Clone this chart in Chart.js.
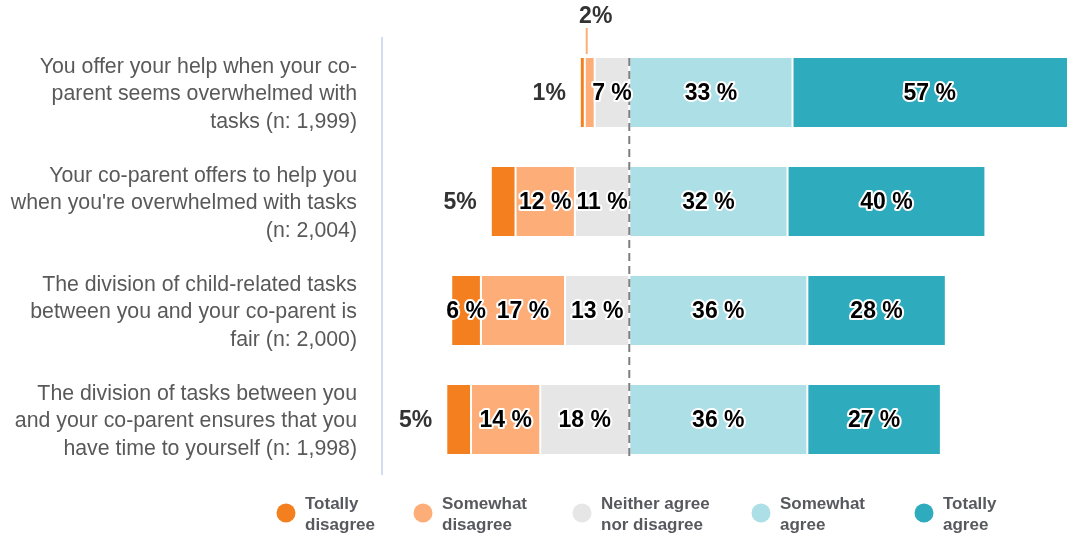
<!DOCTYPE html>
<html>
<head>
<meta charset="utf-8">
<script src="https://cdn.jsdelivr.net/npm/chart.js@4/dist/chart.umd.min.js"></script>
<style>
  html, body { margin: 0; padding: 0; background: #fff; }
  #wrap { width: 1067px; height: 536px; position: relative; }
</style>
</head>
<body>
<div id="wrap"><canvas id="mycanvas" width="1067" height="536"></canvas></div>
<script>
// statements (y axis), one array of lines each
var statements = [
  ["You offer your help when your co-", "parent seems overwhelmed with", "tasks (n: 1,999)"],
  ["Your co-parent offers to help you", "when you're overwhelmed with tasks", "(n: 2,004)"],
  ["The division of child-related tasks", "between you and your co-parent is", "fair (n: 2,000)"],
  ["The division of tasks between you", "and your co-parent ensures that you", "have time to yourself (n: 1,998)"]
];

// answers in %
var totallyDisagree = [1, 5, 6, 5];
var somewhatDisagree = [2, 12, 17, 14];
var neither = [7, 11, 13, 18];
var somewhatAgree = [33, 32, 36, 36];
var totallyAgree = [57, 40, 28, 27];

var legendNames = [
  ["Totally", "disagree"],
  ["Somewhat", "disagree"],
  ["Neither agree", "nor disagree"],
  ["Somewhat", "agree"],
  ["Totally", "agree"]
];

var colTD = "#f47f1e", colSD = "#fdae78", colN = "#e6e6e6", colSA = "#addfe7", colTA = "#2eacbd";
var font = "'Liberation Sans', Arial, sans-serif";

function neg(arr) { return arr.map(function(v){ return -v; }); }

function bar(label, data, color) {
  return {
    label: label,
    data: data,
    backgroundColor: color,
    borderColor: "#ffffff",
    borderWidth: {left: 1, right: 1, top: 0, bottom: 0},
    borderSkipped: false,
    barPercentage: 0.633,
    categoryPercentage: 1
  };
}

// negatives stack from zero outwards in dataset order
var chartdata = {
  labels: statements,
  datasets: [
    bar("Neither agree nor disagree", neg(neither), colN),
    bar("Somewhat disagree", neg(somewhatDisagree), colSD),
    bar("Totally disagree", neg(totallyDisagree), colTD),
    bar("Somewhat agree", somewhatAgree, colSA),
    bar("Totally agree", totallyAgree, colTA)
  ]
};

var labelPlugin = {
  id: "labelPlugin",
  afterDatasetsDraw: function(chart) {
    var ctx = chart.ctx, area = chart.chartArea;
    var x0 = chart.scales.x.getPixelForValue(0);
    var firstBar = chart.getDatasetMeta(0).data[0];
    var lastBar = chart.getDatasetMeta(0).data[statements.length - 1];

    // dashed zero line
    ctx.save();
    ctx.strokeStyle = "#7f7f7f";
    ctx.lineWidth = 2;
    ctx.setLineDash([8, 5]);
    ctx.beginPath();
    ctx.moveTo(x0, firstBar.y - firstBar.height / 2);
    ctx.lineTo(x0, lastBar.y + lastBar.height / 2 + 3);
    ctx.stroke();
    ctx.restore();

    ctx.save();
    ctx.font = "bold 23px " + font;
    ctx.textBaseline = "middle";
    chart.data.datasets.forEach(function(ds, di) {
      var meta = chart.getDatasetMeta(di);
      meta.data.forEach(function(el, i) {
        var v = Math.abs(ds.data[i]);
        var left = Math.max(Math.min(el.x, el.base), area.left);
        var right = Math.min(Math.max(el.x, el.base), area.right);
        var cx = (left + right) / 2, cy = el.y;
        if (di === 2 && v <= 5) {
          // small outer value: to the left of the bar
          ctx.fillStyle = "#333333";
          ctx.textAlign = "right";
          ctx.fillText(v + "%", left - 14, cy + 1);
        } else if (di === 1 && v < 3) {
          // tiny segment: label above with a leader line
          var top = el.y - el.height / 2;
          ctx.strokeStyle = colSD;
          ctx.lineWidth = 2;
          ctx.beginPath();
          ctx.moveTo(cx - 3, top - 4);
          ctx.lineTo(cx - 3, top - 30);
          ctx.stroke();
          ctx.fillStyle = "#333333";
          ctx.textAlign = "center";
          ctx.fillText(v + "%", cx + 6, top - 41);
        } else {
          ctx.textAlign = "center";
          ctx.lineJoin = "round";
          ctx.lineWidth = 4;
          ctx.strokeStyle = "#ffffff";
          ctx.strokeText(v + " %", cx, cy + 1);
          ctx.fillStyle = "#000000";
          ctx.fillText(v + " %", cx, cy + 1);
        }
      });
    });
    ctx.restore();
  },
  afterDraw: function(chart) {
    // legend, in answer order
    var ctx = chart.ctx;
    var colors = [colTD, colSD, colN, colSA, colTA];
    var dotX = [286, 423, 582, 761, 924];
    ctx.save();
    ctx.font = "bold 17px " + font;
    ctx.textBaseline = "middle";
    ctx.textAlign = "left";
    for (var k = 0; k < legendNames.length; k++) {
      ctx.fillStyle = colors[k];
      ctx.beginPath();
      ctx.arc(dotX[k], 513, 9.5, 0, Math.PI * 2);
      ctx.fill();
      ctx.fillStyle = "#58595e";
      ctx.fillText(legendNames[k][0], dotX[k] + 19, 504);
      ctx.fillText(legendNames[k][1], dotX[k] + 19, 525);
    }
    ctx.restore();
  }
};

var ctx = document.getElementById("mycanvas");
var chart = new Chart(ctx, {
  type: "bar",
  data: chartdata,
  plugins: [labelPlugin],
  options: {
    indexAxis: "y",
    responsive: false,
    animation: false,
    layout: { padding: { top: 38, bottom: 62, left: 0, right: 0 } },
    plugins: { legend: { display: false }, tooltip: { enabled: false } },
    scales: {
      x: {
        stacked: true,
        display: false,
        min: -50,
        max: 88.5
      },
      y: {
        stacked: true,
        afterFit: function(scale) {
          scale.width = 382;
          scale.paddingTop = 0;
          scale.paddingBottom = 0;
        },
        grid: { display: false, drawTicks: false },
        border: { display: true, color: "#d3dbee", width: 2 },
        ticks: {
          padding: 25,
          labelOffset: 2,
          color: "#595959",
          font: { family: font, size: 21.3, lineHeight: 1.28 }
        }
      }
    }
  }
});
</script>
</body>
</html>
